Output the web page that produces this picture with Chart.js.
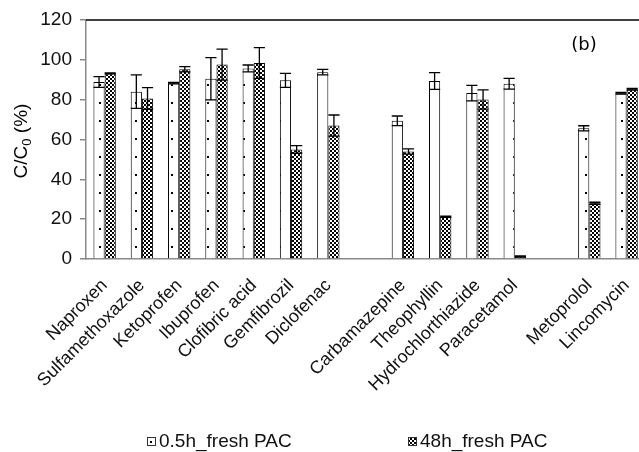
<!DOCTYPE html>
<html>
<head>
<meta charset="utf-8">
<script src="https://cdn.jsdelivr.net/npm/chart.js@4.4.1/dist/chart.umd.min.js"></script>
<style>
  html, body { margin: 0; padding: 0; background: #fff; overflow: hidden; }
  #wrap { position: relative; width: 650px; height: 452px; }
</style>
</head>
<body>
<div id="wrap"><canvas id="pacChart" width="650" height="452"></canvas></div>
<script>
// compounds, with empty slots separating the three groups
const compounds = ['Naproxen', 'Sulfamethoxazole', 'Ketoprofen', 'Ibuprofen', 'Clofibric acid', 'Gemfibrozil', 'Diclofenac', '',
                   'Carbamazepine', 'Theophyllin', 'Hydrochlorthiazide', 'Paracetamol', '',
                   'Metoprolol', 'Lincomycin'];

// C/C0 (%) after 0.5 h and 48 h contact with fresh PAC, with standard deviations
const fresh05 = [88.9, 84.0, 88.3, 90.5, 95.7, 89.7, 93.8, null, 69.4, 89.4, 83.3, 88.0, null, 65.6, 83.2];
const err05   = [2.7, 8.4, 0.4, 10.6, 1.7, 3.5, 1.4, null, 2.4, 4.2, 3.9, 2.7, null, 1.3, 0.4];
const fresh48 = [93.2, 80.6, 95.3, 97.6, 98.4, 55.0, 67.0, null, 54.0, 21.2, 80.1, 1.2, null, 28.0, 85.2];
const err48   = [0.3, 5.4, 1.3, 7.8, 7.7, 1.9, 5.3, null, 1.3, 0.3, 4.8, 0.3, null, 0.5, 0.4];

const seriesNames = ['0.5h_fresh PAC', '48h_fresh PAC'];
const yTicks = [0, 20, 40, 60, 80, 100, 120];

const FONT = '"Liberation Sans", Arial, sans-serif';
const canvas = document.getElementById('pacChart');
const ctx = canvas.getContext('2d');

// sparse dots on white for the 0.5 h bars
function dotPattern() {
    const t = document.createElement('canvas');
    t.width = 18; t.height = 18;
    const g = t.getContext('2d');
    g.fillStyle = '#fff';
    g.fillRect(0, 0, 18, 18);
    g.fillStyle = '#000';
    g.fillRect(9, 12, 2, 2);
    return ctx.createPattern(t, 'repeat');
}

// fine checkerboard for the 48 h bars
function checkerPattern() {
    const t = document.createElement('canvas');
    t.width = 4; t.height = 4;
    const g = t.getContext('2d');
    g.fillStyle = '#fff';
    g.fillRect(0, 0, 4, 4);
    g.fillStyle = '#000';
    g.fillRect(0, 0, 2, 2);
    g.fillRect(2, 2, 2, 2);
    return ctx.createPattern(t, 'repeat');
}

const dots = dotPattern();
const checker = checkerPattern();

const errorBars = {
    id: 'errorBars',
    afterDatasetsDraw(chart) {
        const c = chart.ctx;
        const y = chart.scales.y;
        c.save();
        c.strokeStyle = '#000';
        c.lineWidth = 1.3;
        chart.data.datasets.forEach((ds, di) => {
            const meta = chart.getDatasetMeta(di);
            meta.data.forEach((bar, i) => {
                const v = ds.data[i];
                const e = ds.errors[i];
                if (v == null || e == null) return;
                const top = y.getPixelForValue(v + e);
                const bot = y.getPixelForValue(v - e);
                const half = bar.width / 2;
                c.beginPath();
                c.moveTo(bar.x, top); c.lineTo(bar.x, bot);
                c.moveTo(bar.x - half, top); c.lineTo(bar.x + half, top);
                c.moveTo(bar.x - half, bot); c.lineTo(bar.x + half, bot);
                c.stroke();
            });
        });
        c.restore();
    }
};

const decorations = {
    id: 'decorations',
    afterDraw(chart) {
        const c = chart.ctx;
        const area = chart.chartArea;
        c.save();

        // frame line along the top
        c.strokeStyle = '#000';
        c.lineWidth = 1.5;
        c.beginPath();
        c.moveTo(area.left, area.top);
        c.lineTo(area.right + 10, area.top);
        c.stroke();

        // panel tag
        c.fillStyle = '#000';
        c.font = '18px "DejaVu Sans", sans-serif';
        c.textAlign = 'center';
        c.textBaseline = 'middle';
        c.fillText('(b)', 584, 45);

        // y axis title with subscript
        c.save();
        c.translate(22, 141);
        c.rotate(-Math.PI / 2);
        c.textAlign = 'left';
        c.textBaseline = 'middle';
        const big = '19px ' + FONT, small = '13px ' + FONT;
        c.font = big;
        const w1 = c.measureText('C/C').width;
        const w3 = c.measureText(' (%)').width;
        c.font = small;
        const w2 = c.measureText('0').width;
        let x = -(w1 + w2 + w3) / 2;
        c.font = big;
        c.fillText('C/C', x, 0);
        x += w1;
        c.font = small;
        c.fillText('0', x, 5);
        x += w2;
        c.font = big;
        c.fillText(' (%)', x, 0);
        c.restore();

        // legend
        c.font = '19px ' + FONT;
        c.textAlign = 'left';
        c.textBaseline = 'middle';
        c.lineWidth = 1;
        c.strokeStyle = '#333';
        const items = [
            { x: 147, fill: '#fff', dot: true, text: seriesNames[0] },
            { x: 408, fill: checker, dot: false, text: seriesNames[1] }
        ];
        items.forEach(it => {
            c.fillStyle = it.fill;
            c.fillRect(it.x, 437, 9, 9);
            c.strokeRect(it.x + 0.5, 437.5, 8, 8);
            if (it.dot) {
                c.fillStyle = '#000';
                c.fillRect(it.x + 3, 441, 2, 2);
            }
            c.fillStyle = '#111';
            c.fillText(it.text, it.x + 12, 442);
        });
        c.restore();
    }
};

new Chart(ctx, {
    type: 'bar',
    data: {
        labels: compounds,
        datasets: [
            {
                label: seriesNames[0],
                data: fresh05,
                errors: err05,
                backgroundColor: dots,
                borderColor: '#000',
                borderWidth: 1
            },
            {
                label: seriesNames[1],
                data: fresh48,
                errors: err48,
                backgroundColor: checker,
                borderColor: '#000',
                borderWidth: 1
            }
        ]
    },
    options: {
        responsive: false,
        animation: false,
        devicePixelRatio: 1,
        layout: { padding: { top: 20, right: 4, left: 0, bottom: 0 } },
        datasets: {
            bar: { categoryPercentage: 0.6, barPercentage: 1.0 }
        },
        plugins: {
            legend: { display: false },
            tooltip: { enabled: false }
        },
        scales: {
            x: {
                grid: { display: false },
                border: { color: '#888', width: 1.5 },
                ticks: {
                    autoSkip: false,
                    minRotation: 45,
                    maxRotation: 45,
                    padding: 8,
                    color: '#111',
                    font: { size: 18, family: FONT }
                },
                afterFit(scale) { scale.height = 193; }
            },
            y: {
                min: 0,
                max: 120,
                afterBuildTicks(scale) { scale.ticks = yTicks.map(v => ({ value: v })); },
                grid: { drawOnChartArea: false, drawTicks: true, tickLength: 6, color: '#888', lineWidth: 1.5 },
                border: { color: '#888', width: 1.5 },
                ticks: {
                    padding: 8,
                    color: '#111',
                    font: { size: 19, family: FONT }
                },
                afterFit(scale) { scale.width = 86; }
            }
        }
    },
    plugins: [errorBars, decorations]
});
</script>
</body>
</html>
